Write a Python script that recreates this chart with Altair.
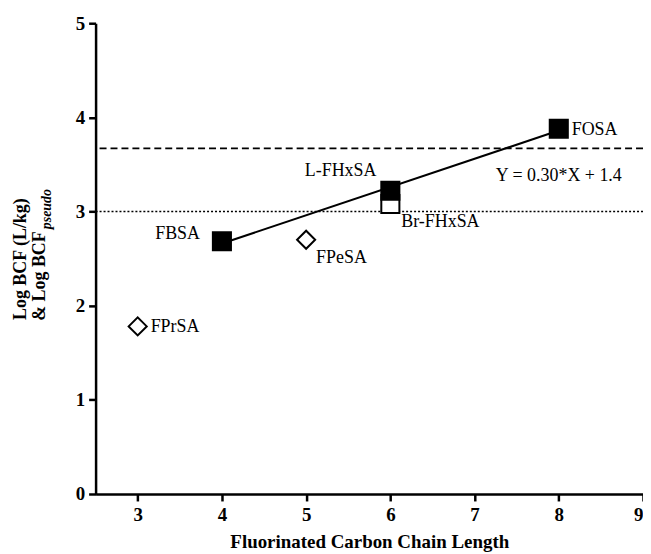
import altair as alt
import pandas as pd

# ---- data ----
compounds = ["FPrSA", "FBSA", "FPeSA", "Br-FHxSA", "L-FHxSA", "FOSA"]
chain_length = [3, 4, 5, 6, 6, 8]
log_bcf = [1.78, 2.685, 2.70, 3.08, 3.22, 3.88]
marker = ["open diamond", "filled square", "open diamond", "open square", "filled square", "filled square"]
label_align = ["left", "right", "left", "left", "right", "left"]
label_dx = [13, -22, 10, 11, -14, 13]
label_dy = [6, -2, 23, 23, -15, 6]

fit_x = [4, 8]
fit_y = [2.66, 3.86]
equation_text = ["Y = 0.30*X + 1.4"]
equation_x = [8.0]
equation_y = [3.32]

dashed_ref = [3.67]
dotted_ref = [3.0]

x_ticks = [3, 4, 5, 6, 7, 8, 9]
y_ticks = [0, 1, 2, 3, 4, 5]
x_title = "Fluorinated Carbon Chain Length"
y_title_line1 = "Log BCF (L/kg)"
y_title_line2 = "& Log BCF"
y_title_sub = "pseudo"

FONT = "Liberation Serif"

pts = pd.DataFrame({
    "compound": compounds, "x": chain_length, "y": log_bcf, "marker": marker,
})
fit = pd.DataFrame({"x": fit_x, "y": fit_y})
eq = pd.DataFrame({"t": equation_text, "x": equation_x, "y": equation_y})

xscale = alt.Scale(domain=[2.5, 9], nice=False, zero=False)
yscale = alt.Scale(domain=[0, 5], nice=False)

xaxis = alt.Axis(values=x_ticks, title=x_title, grid=False, titleFontSize=19,
                 titlePadding=8, labelPadding=5)
yaxis = alt.Axis(values=y_ticks, title=None, grid=False, labelPadding=4)

dash_rule = alt.Chart(pd.DataFrame({"y": dashed_ref})).mark_rule(
    color="black", strokeWidth=1.8, strokeDash=[7, 4]
).encode(y=alt.Y("y:Q", scale=yscale, axis=yaxis))

dot_rule = alt.Chart(pd.DataFrame({"y": dotted_ref})).mark_rule(
    color="black", strokeWidth=1.5, strokeDash=[2, 2]
).encode(y=alt.Y("y:Q", scale=yscale, axis=yaxis))

fit_line = alt.Chart(fit).mark_line(color="black", strokeWidth=2).encode(
    x=alt.X("x:Q", scale=xscale, axis=xaxis),
    y=alt.Y("y:Q", scale=yscale, axis=yaxis),
)

marker_domain = ["filled square", "open square", "open diamond"]
points = alt.Chart(pts).mark_point(
    filled=True, stroke="black", strokeWidth=2, opacity=1
).encode(
    x=alt.X("x:Q", scale=xscale, axis=xaxis),
    y=alt.Y("y:Q", scale=yscale, axis=yaxis),
    shape=alt.Shape("marker:N", scale=alt.Scale(domain=marker_domain,
                    range=["square", "square", "diamond"]), legend=None),
    fill=alt.Fill("marker:N", scale=alt.Scale(domain=marker_domain,
                  range=["black", "white", "white"]), legend=None),
    size=alt.Size("marker:N", scale=alt.Scale(domain=marker_domain,
                  range=[330, 330, 380]), legend=None),
)

label_layers = []
for i in range(len(compounds)):
    sub = pts.iloc[[i]]
    label_layers.append(
        alt.Chart(sub).mark_text(
            font=FONT, fontSize=18, color="black", align=label_align[i],
            baseline="alphabetic", dx=label_dx[i], dy=label_dy[i]
        ).encode(x=alt.X("x:Q", scale=xscale, axis=xaxis),
                 y=alt.Y("y:Q", scale=yscale, axis=yaxis),
                 text="compound:N")
    )

eq_text = alt.Chart(eq).mark_text(
    font=FONT, fontSize=18, color="black", align="center", baseline="alphabetic"
).encode(x=alt.X("x:Q", scale=xscale, axis=xaxis),
         y=alt.Y("y:Q", scale=yscale, axis=yaxis), text="t:N")

ytitle_df = pd.DataFrame({"a": [y_title_line1], "b": [y_title_line2], "c": [y_title_sub]})
yt1 = alt.Chart(ytitle_df).mark_text(
    font=FONT, fontSize=18, fontWeight="bold", angle=270, align="center",
    baseline="middle", color="black"
).encode(x=alt.value(-75), y=alt.value(237), text="a:N")
yt2 = alt.Chart(ytitle_df).mark_text(
    font=FONT, fontSize=18, fontWeight="bold", angle=270, align="left",
    baseline="middle", color="black"
).encode(x=alt.value(-56), y=alt.value(299), text="b:N")
yt3 = alt.Chart(ytitle_df).mark_text(
    font=FONT, fontSize=14, fontStyle="italic", fontWeight="bold", angle=270,
    align="left", baseline="middle", color="black"
).encode(x=alt.value(-49), y=alt.value(207), text="c:N")

chart = alt.layer(
    dash_rule, dot_rule, fit_line, points, *label_layers, eq_text, yt1, yt2, yt3
).properties(
    width=550, height=473, autosize="none",
    padding={"left": 88, "top": 14, "right": 0, "bottom": 59},
).configure_view(stroke=None).configure_axis(
    domainColor="black", domainWidth=2.5, tickColor="black", tickWidth=2.5,
    tickSize=7, labelFont=FONT, labelFontSize=19, labelFontWeight="bold",
    labelColor="black", titleFont=FONT, titleFontWeight="bold", titleColor="black",
)

chart.save("out.html", embed_options={"renderer": "svg", "actions": False})
